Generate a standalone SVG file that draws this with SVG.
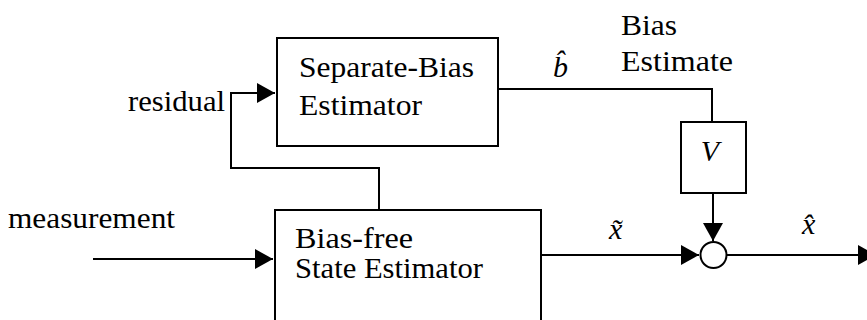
<svg xmlns="http://www.w3.org/2000/svg" width="867" height="320" viewBox="0 0 867 320">
<style>
.box{fill:none;stroke:#000;stroke-width:2}
.ln{fill:none;stroke:#000;stroke-width:2}
.t{font-family:'Liberation Serif','Times New Roman',serif;font-size:30px;fill:#000}
.i{font-family:'Liberation Serif','Times New Roman',serif;font-size:30px;font-style:italic;fill:#000}
</style>
<defs>
<marker id="ah" markerUnits="userSpaceOnUse" markerWidth="20" markerHeight="22" refX="18" refY="10" orient="auto">
<path d="M0,0 L18,10 L0,20 z" fill="#000"/>
</marker>
</defs>
<rect width="867" height="320" fill="#fff"/>
<g id="connectors">
<path class="ln" d="M379,210 V168 H231 V93 H275" marker-end="url(#ah)"/>
<path class="ln" d="M93,259 H273" marker-end="url(#ah)"/>
<path class="ln" d="M498,89 H712 V122"/>
<path class="ln" d="M713,193 V241" marker-end="url(#ah)"/>
<path class="ln" d="M541,255 H699" marker-end="url(#ah)"/>
<path class="ln" d="M727,255 H876" marker-end="url(#ah)"/>
</g>
<g id="sep-bias">
<rect class="box" x="277" y="38" width="221" height="108"/>
<text class="t" x="299" y="77" textLength="175" lengthAdjust="spacingAndGlyphs">Separate-Bias</text>
<text class="t" x="299" y="115" textLength="123" lengthAdjust="spacingAndGlyphs">Estimator</text>
</g>
<g id="state-est">
<rect class="box" x="275" y="210" width="266" height="130"/>
<text class="t" x="295" y="248" textLength="118" lengthAdjust="spacingAndGlyphs">Bias-free</text>
<text class="t" x="295" y="278" textLength="188" lengthAdjust="spacingAndGlyphs">State Estimator</text>
</g>
<g id="v-block">
<rect class="box" x="681" y="122" width="65" height="71"/>
<text class="i" x="710" y="161" text-anchor="middle">V</text>
</g>
<g id="sum">
<circle class="box" cx="713.5" cy="255" r="13"/>
</g>
<g id="labels">
<text class="t" x="8" y="228" textLength="167" lengthAdjust="spacingAndGlyphs">measurement</text>
<text class="t" x="128" y="111" textLength="97" lengthAdjust="spacingAndGlyphs">residual</text>
<text class="t" x="621" y="35" textLength="56" lengthAdjust="spacingAndGlyphs">Bias</text>
<text class="t" x="621" y="71" textLength="112" lengthAdjust="spacingAndGlyphs">Estimate</text>
<text class="i" x="553" y="77">b&#x302;</text>
<text class="i" x="609" y="239">x&#x303;</text>
<text class="i" x="802" y="234">x&#x302;</text>
</g>
</svg>
